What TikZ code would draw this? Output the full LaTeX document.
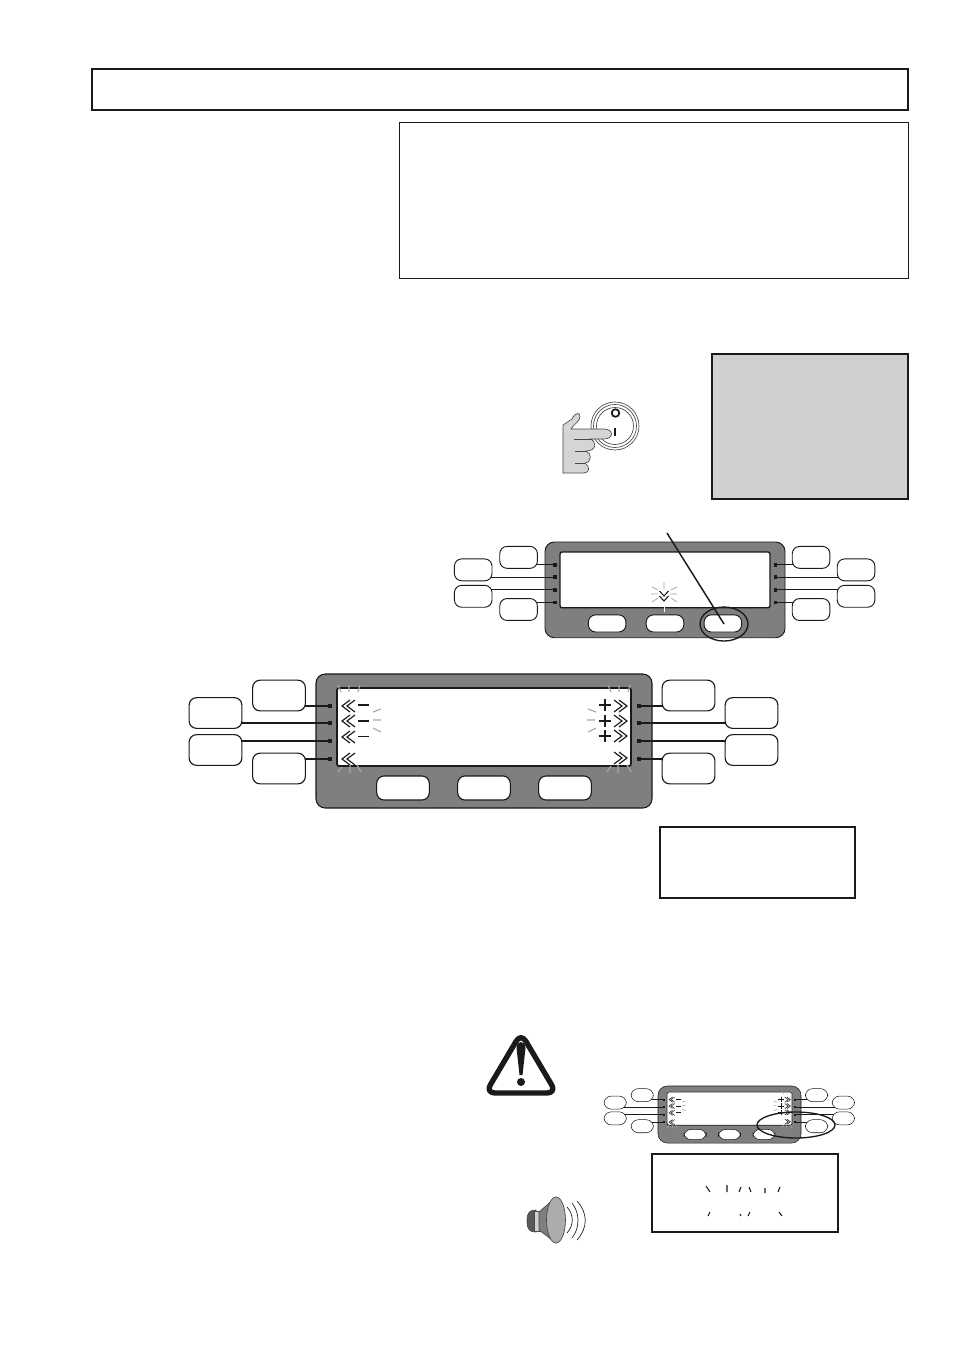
\documentclass[tikz,border=0pt]{standalone}
\usetikzlibrary{backgrounds,shapes.geometric}
\definecolor{panelgray}{HTML}{7E807F}
\definecolor{boxgray}{HTML}{D0D0D0}
\definecolor{raygray}{HTML}{A8A8A8}
\definecolor{ink}{HTML}{1A1A1A}
\tikzset{
  frame/.style={draw=ink,line width=.6pt,fill=white,rectangle,inner sep=0pt},
  keybox/.style={draw=ink,fill=white,rectangle,rounded corners=5.5pt,inner sep=0pt,transform shape,line width=\plw},
  softkey/.style={keybox,minimum width=39.5pt,minimum height=18pt},
  sidekey/.style={keybox,minimum width=39.5pt,minimum height=23pt},
  lamp/.style={fill=ink,rectangle,inner sep=0pt,minimum size=3.6pt,transform shape},
  plate/.style={draw=ink,fill=panelgray,rectangle,rounded corners=7pt,inner sep=0pt,transform shape,line width=\plw,minimum width=252pt,minimum height=100.5pt},
  glass/.style={draw=ink,fill=white,rectangle,rounded corners=1.5pt,inner sep=0pt,transform shape,line width=1.5*\plw,minimum width=220.5pt,minimum height=58.5pt},
  wire/.style={draw=ink,line width=\plw},
  ray/.style={draw=raygray,line width=\plw},
  chev/.style={draw=ink,line width=\plw},
  stroke/.style={draw=ink,line width=1.7*\plw},
  oval/.style={draw=ink,ellipse,inner sep=0pt,line width=1pt},
}
\newcommand{\chL}[2]{\draw[chev,shift={(#1,#2)}] (8,-6)--(0,0)--(8,6) (13,-6)--(5,0)--(13,6);}
\newcommand{\chR}[2]{\draw[chev,shift={(#1,#2)}] (-8,-6)--(0,0)--(-8,6) (-13,-6)--(-5,0)--(-13,6);}
\newcommand{\panelunit}[6]{%
  \def\plw{#5}%
  \begin{scope}[shift={(#2,#3)},scale=#4,shift={(-316,-674)}]
    \begin{scope}[on background layer]
      \node[plate] (#1plate) at (484,741) {};
    \end{scope}
    \node[glass] (#1screen) at (484,727) {};
    \node[softkey] (#1s1) at (403,788) {};
    \node[softkey] (#1s2) at (484,788) {};
    \node[softkey] (#1s3) at (565,788) {};
    \node[lamp] (#1la) at (330,706) {};
    \node[lamp] (#1lb) at (330,723) {};
    \node[lamp] (#1lc) at (330,741) {};
    \node[lamp] (#1ld) at (330,759) {};
    \node[lamp] (#1ra) at (639,706) {};
    \node[lamp] (#1rb) at (639,723) {};
    \node[lamp] (#1rc) at (639,741) {};
    \node[lamp] (#1rd) at (639,759) {};
    \node[sidekey] (#1ka) at (279,695.5) {};
    \node[sidekey] (#1kb) at (215.5,713) {};
    \node[sidekey] (#1kc) at (215.5,750) {};
    \node[sidekey] (#1kd) at (279,768.5) {};
    \node[sidekey] (#1ma) at (688.5,695.5) {};
    \node[sidekey] (#1mb) at (751.5,713) {};
    \node[sidekey] (#1mc) at (751.5,750) {};
    \node[sidekey] (#1md) at (688.5,768.5) {};
    \begin{scope}[on background layer]
      \foreach \a/\b in {ka/la,kb/lb,kc/lc,kd/ld,ma/ra,mb/rb,mc/rc,md/rd}
        \draw[wire] (#1\a.center |- #1\b.center) -- (#1\b.center);
    \end{scope}
    #6
  \end{scope}}
\newcommand{\bigmarks}{%
  \chL{342}{706}\chL{342}{721}\chL{342}{737}\chL{342}{759}
  \chR{627}{706}\chR{627}{721}\chR{627}{736}\chR{627}{758}
  \draw[stroke] (358,705)--(369,705) (358,721)--(369,721);
  \draw[wire] (358,736.5)--(369,736.5);
  \draw[stroke] (599,705)--(611,705) (605,699)--(605,711)
                (599,721)--(611,721) (605,715)--(605,727);
  \draw[wire] (599,736)--(611,736) (605,730)--(605,742);
  \draw[ray] (338,685)--(341,692) (349,685)--(349,692) (360,685)--(358,692)
             (373,712)--(381,709) (373,720)--(381,720) (373,728)--(381,732)
             (342,767)--(338,772) (350,765)--(350,773) (357,765)--(361,772)
             (608,685)--(611,692) (619,685)--(619,692) (630,685)--(628,692)
             (588,709)--(596,712) (587,720)--(595,720) (588,732)--(596,728)
             (611,766)--(607,772) (618,765)--(618,773) (627,765)--(631,772);}
\begin{document}
\begin{tikzpicture}[x=.75pt,y=-.75pt]
\useasboundingbox (0,0) rectangle (954,1350);
% text frames
\draw[frame,line width=1.1pt] (92,69) rectangle (908,110);
\draw[frame] (399,122) rectangle (908,278);
\draw[draw=ink,fill=boxgray,line width=1.6pt] (712,354) rectangle (908,499);
\draw[frame,line width=1pt] (660,827) rectangle (855,898);
\draw[frame,line width=1pt] (652,1154) rectangle (838,1232);
% switch
\draw[draw=ink!80,line width=.5pt] (615,426) circle (24);
\draw[draw=ink!80,line width=.5pt] (615,426) circle (21.5);
\draw[draw=ink!80,line width=.5pt] (615,426) circle (18.5);
\draw[draw=ink,line width=1.3pt] (615.5,413) circle (3.8);
\draw[draw=ink,line width=1.5pt] (615,428)--(615,436);
% hand
\draw[draw=ink!80,fill=boxgray!90!white,line width=.5pt,line join=round]
  (563,473)--(563,425)--(572,419) .. controls (575,412) and (581,412) .. (580,417)
  .. controls (580,421) and (573,425) .. (571,429)--(604,429)
  .. controls (614,429) and (614,439) .. (604,439)--(590,439)
  .. controls (597,441) and (597,451) .. (586,451)
  .. controls (592,453) and (592,462) .. (585,463)
  .. controls (590,466) and (590,473) .. (584,473)--cycle;
\draw[draw=ink!80,line width=.5pt] (574,439)--(592,439) (575,451)--(586,451) (575,463)--(585,463);
% medium panel
\panelunit{m}{545}{542}{.7143}{.7pt}{}
\draw[chev,draw=ink,line width=.8pt] (659.5,591)--(664,596)--(668.5,591) (659.5,596)--(664,601)--(668.5,596);
\draw[draw=raygray,line width=.6pt] (664,582)--(664,589) (652,587)--(658,590) (671,590)--(677,587)
  (651,594)--(658,594) (670,594)--(677,594) (652,602)--(658,598) (671,598)--(677,602);
\draw[draw=white,line width=.7pt] (664,607)--(664,612);
\node[oval,minimum width=36pt,minimum height=25.5pt] (mring) at (724,624) {};
\coordinate (mptr) at (667,533);
\draw[draw=ink,line width=1.1pt] (mptr) -- (mring.center);
% big panel
\panelunit{b}{316}{674}{1}{.85pt}{\bigmarks}
% tiny panel
\panelunit{t}{658}{1086}{.4256}{.4pt}{\bigmarks}
\node[oval,minimum width=58.5pt,minimum height=19.5pt] (tring) at (796,1125) {};
% rays in lower frame
\draw[draw=ink,line width=.8pt] (706,1186)--(710,1192) (727,1185)--(727,1192) (741,1187)--(739,1192)
  (749,1187)--(751,1192) (765,1188)--(765,1193) (780,1187)--(778,1192)
  (710,1212)--(708,1216) (740,1214)--(741,1216) (750,1212)--(748,1216) (779,1212)--(782,1216);
% warning sign
\draw[draw=ink,line width=4pt,line join=round,rounded corners=7pt,fill=white]
  (521,1033)--(485.5,1093)--(556.5,1093)--cycle;
\fill[ink] (516.5,1048) .. controls (516.5,1040) and (525.5,1040) .. (525.5,1048)
  -- (522.5,1075) -- (519.5,1075) -- cycle;
\fill[ink] (521,1082) circle (4);
% speaker
\draw[draw=ink!80,fill=gray!70!black,line width=.5pt] (527,1221) .. controls (527,1212) and (530,1210) .. (536,1210)
  -- (536,1232) .. controls (530,1232) and (527,1230) .. (527,1221) -- cycle;
\draw[draw=ink!80,fill=boxgray,line width=.5pt] (534,1211) rectangle (540,1231);
\draw[draw=ink!80,fill=panelgray,line width=.5pt] (539,1212)--(556,1197)--(556,1243)--(539,1230)--cycle;
\draw[draw=ink!80,fill=gray!65,line width=.5pt] (556,1220) ellipse (9.5 and 23);
\draw[draw=ink,line width=.5pt] (567,1207) .. controls (574,1215) and (574,1225) .. (567,1233)
  (572,1203) .. controls (580,1213) and (580,1228) .. (572,1238)
  (577,1201) .. controls (588,1213) and (588,1228) .. (577,1240);
\end{tikzpicture}
\end{document}
